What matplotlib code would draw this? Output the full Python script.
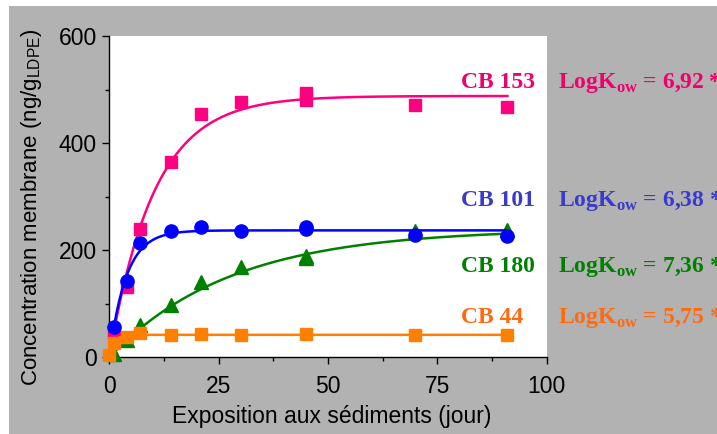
import numpy as np
import matplotlib
matplotlib.use("Agg")
import matplotlib.pyplot as plt
from matplotlib.patches import Rectangle

plt.rcParams['mathtext.fontset'] = 'custom'
plt.rcParams['mathtext.rm'] = 'Liberation Sans'
plt.rcParams['mathtext.bf'] = 'Liberation Serif:bold'

# ---- data ----
days = [1, 4, 7, 14, 21, 30, 45, 45, 70, 91]
cb153 = [48, 132, 240, 364, 454, 477, 494, 481, 471, 468]
cb101 = [57, 142, 213, 236, 243, 236, 244, 239, 228, 227]
cb180 = [7, 32, 60, 98, 141, 169, 190, 185, 235, 238]
days44 = [0, 1, 4, 7, 14, 21, 30, 45, 70, 91]
cb44 = [4, 26, 38, 45, 42, 44, 41, 44, 42, 41]

# first-order uptake fit parameters (plateau, rate, start day)
names = ["CB 153", "CB 101", "CB 180", "CB 44"]
plateau = [488, 237, 240, 42]
rate = [0.098, 0.26, 0.036, 0.9]
t_start = [1, 1, 1, 0]
t_end = 91
logkow = ["6,92", "6,38", "7,36", "5,75"]

fig = plt.figure(figsize=(7.17, 4.34), dpi=100, facecolor='white')
fig.patches.append(Rectangle((9/717, 0), 1 - 9/717, 428/434, transform=fig.transFigure,
                             facecolor='#b2b2b2', edgecolor='none', zorder=-10))
ax = fig.add_axes([109.3/717, (434-357.3)/434, 437.4/717, 321.3/434])
ax.set_facecolor('white')

marker_col = ['#ff0080', '#0000ff', '#008000', '#ff8000']
text_col = ['#f0006e', '#3a3acc', '#008000', '#ff6a10']

def fit_curve(i):
    t = np.linspace(t_start[i], t_end, 300)
    return t, plateau[i] * (1 - np.exp(-rate[i] * t))

series = [(days, cb153, 's', 9), (days, cb101, 'o', 9.5), (days, cb180, '^', 9.5), (days44, cb44, 's', 9)]
order = [0, 2, 1, 3]
for z, i in enumerate(order):
    xs, ys, mk, ms = series[i]
    t, c = fit_curve(i)
    ax.plot(t, c, color=marker_col[i], lw=1.8, zorder=2 + 2*z)
    ax.plot(xs, ys, linestyle='none', marker=mk, markersize=ms, color=marker_col[i],
            markeredgecolor=marker_col[i], zorder=3 + 2*z, clip_on=False)

ax.set_xlim(0, 100)
ax.set_ylim(0, 600)
ax.set_xticks([0, 25, 50, 75, 100])
ax.set_xticks([12.5, 37.5, 62.5, 87.5], minor=True)
ax.set_yticks([0, 200, 400, 600])
ax.set_yticks([100, 300, 500], minor=True)
for s in ['top', 'right']:
    ax.spines[s].set_visible(False)
for s in ['left', 'bottom']:
    ax.spines[s].set_linewidth(1.0)
ax.tick_params(axis='both', which='major', length=5, width=1, labelsize=16.5)
ax.tick_params(axis='both', which='minor', length=3, width=1)
ax.tick_params(axis='x', which='major', pad=8)
ax.tick_params(axis='y', which='major', pad=4)
for lab in ax.get_xticklabels() + ax.get_yticklabels():
    lab.set_fontfamily('Liberation Sans')

ax.set_xlabel('Exposition aux sédiments (jour)', fontsize=16.5, family='Liberation Sans')
ax.set_ylabel('Concentration membrane (ng/g$_{\\mathrm{LDPE}}$)', fontsize=16, family='Liberation Sans')
ax.xaxis.set_label_coords(0.508, -0.148)
ax.yaxis.set_label_coords(-0.149, 0.466)

label_y = [502, 283.4, 159.8, 63.5]
for i in range(4):
    ax.text(80.4, label_y[i], names[i], color=text_col[i], fontsize=17, family='Liberation Serif',
            fontweight='bold', ha='left', va='baseline', clip_on=False)
    ax.text(102.5, label_y[i], 'LogK$_{\\mathbf{ow}}$ = ' + logkow[i] + ' *', color=text_col[i],
            fontsize=17, family='Liberation Serif', fontweight='bold', ha='left', va='baseline',
            clip_on=False)

fig.savefig('out.png', dpi=100, facecolor=fig.get_facecolor())
